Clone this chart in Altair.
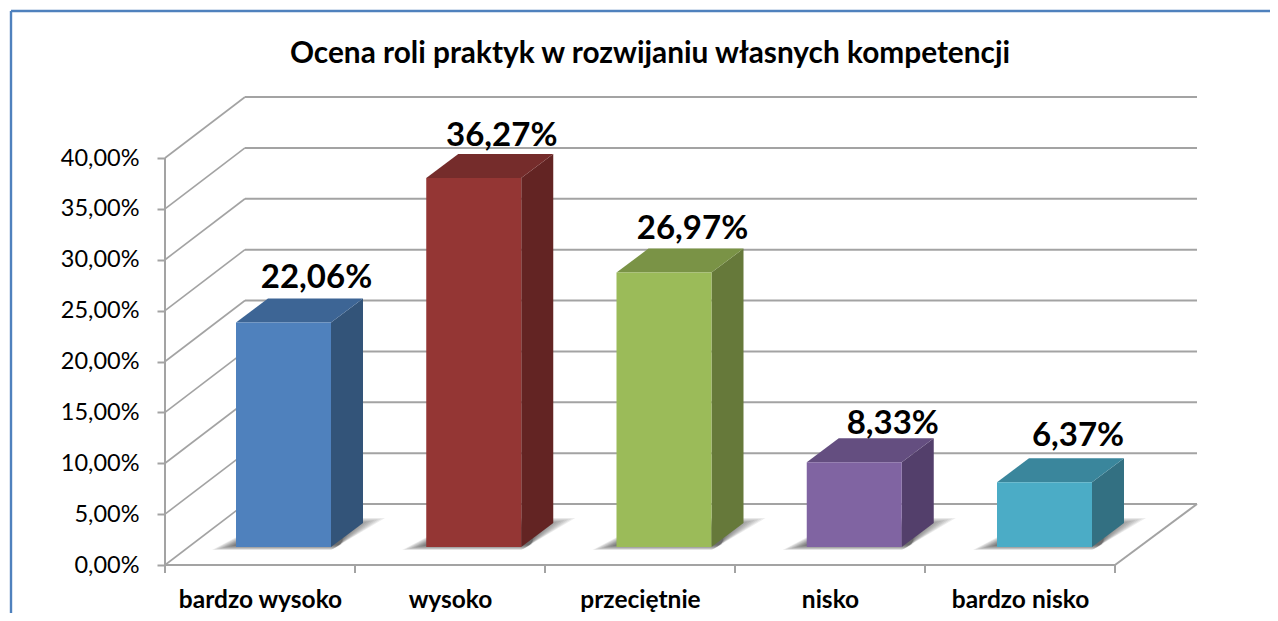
import altair as alt
import pandas as pd

# ---- chart values -------------------------------------------------------
categories = ["bardzo wysoko", "wysoko", "przeciętnie", "nisko", "bardzo nisko"]
values = [22.06, 36.27, 26.97, 8.33, 6.37]
y_ticks = [0, 5, 10, 15, 20, 25, 30, 35, 40]
x_ticks = [0, 1, 2, 3, 4, 5]
front_colors = ["#4f81bd", "#943634", "#9bbb59", "#8064a2", "#4bacc6"]
top_colors = ["#3d6595", "#752c2b", "#7a9346", "#644e80", "#3a869c"]
side_colors = ["#335479", "#632423", "#66793a", "#533f6b", "#337082"]
title_text = "Ocena roli praktyk w rozwijaniu własnych kompetencji"
# nudges of the value labels (px), from the bar's top-back edge
label_dx = [17, 12, 12.5, 22.5, 17.5]
label_dy = [11, 8, 10, 4, 12]

# ---- 3D geometry, px per data unit ---------------------------------------
UX, UY = 190.0, 10.175
W, H = 1032, 468
WALL_DX, WALL_DY = 80 / UX, 61 / UY
BAR_START, BAR_STEP, BAR_W = 71 / UX, 190.25 / UX, 95 / UX
BAR_DX, BAR_DY = 32 / UX, 24 / UY
BASE = 18 / UY
GRID = "#a3a3a3"


def area_rows(group, color, pts_lower_upper):
    return [dict(group=group, color=color, x=x, y=lo, y2=up) for x, lo, up in pts_lower_upper]


front, faces, shadows = [], [], []
for i, v in enumerate(values):
    x0 = BAR_START + i * BAR_STEP
    x1 = x0 + BAR_W
    top = BASE + v
    front.append(dict(x=x0, x2=x1, y=BASE, y2=top, color=front_colors[i]))
    faces += area_rows(f"s{i}", side_colors[i], [
        (x1, BASE, top), (x1 + BAR_DX, BASE + BAR_DY, top + BAR_DY)])
    faces += area_rows(f"t{i}", top_colors[i], [
        (x0, top, top), (x0 + BAR_DX, top, top + BAR_DY),
        (x1, top, top + BAR_DY), (x1 + BAR_DX, top + BAR_DY, top + BAR_DY)])
    # soft floor shadow: nested translucent shapes
    for k in range(14):
        s = k * 1.5
        yb = BASE + (-3 + s * 0.3) / UY
        yt = BASE + (29 - s * 0.5) / UY
        xl = x0 + (-24 + s * 1.5) / UX
        xr = x1 + (s * 0.6) / UX
        xrt = x1 + (54 - 2.4 * s) / UX
        xul = xl + ((yt - yb) * UY * 1.9) / UX
        shadows += area_rows(f"b{i}k{k:02d}", "#303030", [
            (xl, yb, yb), (xul, yb, yt), (xr, yb, yt), (xrt, yt, yt)])

front_df = pd.DataFrame(front)
faces_df = pd.DataFrame(faces)
shadow_df = pd.DataFrame(shadows)
labels_df = pd.DataFrame({
    "x": [BAR_START + i * BAR_STEP + (BAR_W + BAR_DX) / 2 + label_dx[i] / UX for i in range(5)],
    "y": [BASE + v + BAR_DY + label_dy[i] / UY for i, v in enumerate(values)],
    "label": [f"{v:.2f}%".replace(".", ",") for v in values],
})
ticks_df = pd.DataFrame({"t": y_ticks})
ticks_df["x0"] = 0.0
ticks_df["xb"] = WALL_DX
ticks_df["xe"] = WALL_DX + 952 / UX
ticks_df["yb"] = ticks_df["t"] + WALL_DY
xt_df = pd.DataFrame({"x": x_ticks, "y": 0.0, "y2": -8 / UY})
floor_df = pd.DataFrame({
    "x": [0.0, 5.0, 0.0], "x2": [5.0, 5 + 82 / UX, 0.0],
    "y": [0.0, 0.0, 0.0], "y2": [0.0, WALL_DY, 40.0]})

xs = alt.Scale(domain=[0, W / UX], range=[0, W], nice=False, zero=False)
ys = alt.Scale(domain=[0, H / UY], range=[H, 0], nice=False, zero=False)
label_expr = "['" + "','".join(categories) + "'][floor(datum.value)]"
x_axis = alt.Axis(
    values=[0.5, 1.5, 2.5, 3.5, 4.5], labelExpr=label_expr, title=None, grid=False,
    domain=False, ticks=False, labelFont="Lato", labelFontSize=24.5, labelFontWeight="bold",
    labelColor="#000000", labelPadding=23, labelAngle=0, labelOverlap=False, labelFlush=False)
y_axis = alt.Axis(
    values=y_ticks, labelExpr="replace(format(datum.value,'.2f'),'.',',')+'%'", title=None,
    grid=False, domain=False, ticks=True, tickSize=8, tickColor=GRID, tickWidth=2,
    labelFont="Lato", labelFontSize=23.5, labelColor="#000000", labelPadding=18,
    labelOverlap=False)
X = lambda f: alt.X(f, type="quantitative", scale=xs, axis=x_axis)
Y = lambda f: alt.Y(f, type="quantitative", scale=ys, axis=y_axis, stack=None)

back = alt.Chart(ticks_df).mark_rule(color=GRID, strokeWidth=2).encode(
    x=X("xb"), x2="xe", y=Y("yb"))
left = alt.Chart(ticks_df).mark_rule(color=GRID, strokeWidth=1.6).encode(
    x=X("x0"), x2="xb", y=Y("t"), y2="yb")
floor = alt.Chart(floor_df).mark_rule(color=GRID, strokeWidth=2).encode(
    x=X("x"), x2="x2", y=Y("y"), y2="y2")
xticks = alt.Chart(xt_df).mark_rule(color=GRID, strokeWidth=2).encode(
    x=X("x"), y=Y("y"), y2="y2")
shadow = alt.Chart(shadow_df).mark_area(opacity=0.085, interpolate="linear").encode(
    x=X("x"), y=Y("y"), y2="y2", detail="group:N", color=alt.Color("color:N", scale=None))
face = alt.Chart(faces_df).mark_area(interpolate="linear").encode(
    x=X("x"), y=Y("y"), y2="y2", detail="group:N", color=alt.Color("color:N", scale=None))
fronts = alt.Chart(front_df).mark_rect().encode(
    x=X("x"), x2="x2", y=Y("y"), y2="y2", color=alt.Color("color:N", scale=None))
text = alt.Chart(labels_df).mark_text(
    font="Lato", fontSize=33, fontWeight="bold", color="#000000", baseline="alphabetic").encode(
    x=X("x"), y=Y("y"), text="label:N")

# outer frame: only the top and left edges fall inside the picture
frame_top = alt.Chart(ticks_df.head(1)).mark_rule(color="#4f81bd", strokeWidth=2.4).encode(
    x=alt.value(-154), x2=alt.value(1105), y=alt.value(-86))
frame_left = alt.Chart(ticks_df.head(1)).mark_rule(color="#4f81bd", strokeWidth=2.4).encode(
    x=alt.value(-154), y=alt.value(-86), y2=alt.value(516))

chart = alt.layer(
    frame_top, frame_left, back, left, floor, xticks, shadow, face, fronts, text
).properties(
    width=W, height=H,
    title=alt.TitleParams(title_text, font="Lato", fontSize=29.8, fontWeight="bold",
                          color="#000000", dx=-31, offset=-59, anchor="middle"),
    autosize=alt.AutoSizeParams(type="none"),
    padding={"left": 157, "top": 89, "right": 73, "bottom": 48},
    background="#ffffff",
).configure_view(stroke=None)

chart.save("out.html", embed_options={"renderer": "svg", "actions": False})
